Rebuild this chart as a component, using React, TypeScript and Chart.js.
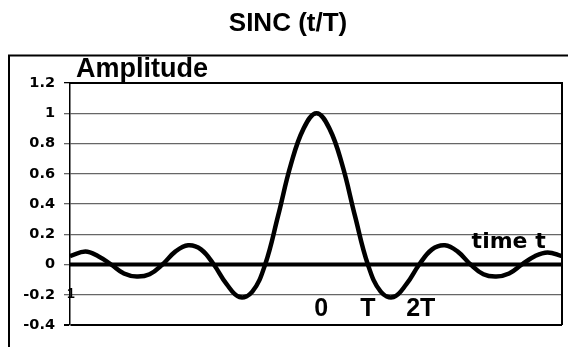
import React, { useEffect, useRef } from "react";
import { Chart, registerables } from "chart.js";

Chart.register(...registerables);

// ---- data (t in units of T) ----
const timeT = [-4.8, -4.5, -4.25, -4.0, -3.75, -3.5, -3.25, -3.0, -2.75, -2.5, -2.25, -2.0, -1.75, -1.5, -1.25, -1.0, -0.75, -0.5, -0.25, 0, 0.25, 0.5, 0.75, 1.0, 1.25, 1.5, 1.75, 2.0, 2.25, 2.5, 2.75, 3.0, 3.25, 3.5, 3.75, 4.0, 4.25, 4.5, 4.78];
const amplitude = [0.055, 0.086, 0.055, 0, -0.06, -0.08, -0.065, 0, 0.085, 0.127, 0.1, 0, -0.13, -0.215, -0.18, 0, 0.32, 0.66, 0.9, 1.0, 0.9, 0.66, 0.32, 0, -0.18, -0.215, -0.13, 0, 0.1, 0.127, 0.085, 0, -0.065, -0.08, -0.06, 0, 0.055, 0.08, 0.055];
const yTicks = [1.2, 1, 0.8, 0.6, 0.4, 0.2, 0, -0.2, -0.4];
const xMin = -4.8;
const xMax = 4.78;
const baselineX = [xMin, xMax];
const baselineY = [0, 0];

const titleText = "SINC (t/T)";
const yAxisTitle = "Amplitude";
const xAxisTitle = "time t";
const xAxisTitleT = 3.02;
const xAxisTitleY = 0.107;
const markerLabels = ["0", "T", "2T"];
const markerT = [0.09, 1.0, 2.03];
const markerY = -0.34;
const strayLabel = "1";

export default function App() {
  const ref = useRef<HTMLCanvasElement>(null);

  useEffect(() => {
    document.body.style.margin = "0";
    const canvas = ref.current!;

    const decor = {
      id: "decor",
      afterDraw(chart: any) {
        const { ctx, chartArea: a, scales } = chart;
        const xs = scales.x;
        const ys = scales.y;
        ctx.save();
        ctx.strokeStyle = "#000";
        ctx.lineWidth = 2;
        // plot-area border (top + right)
        ctx.beginPath();
        ctx.moveTo(a.left, a.top);
        ctx.lineTo(a.right, a.top);
        ctx.lineTo(a.right, a.bottom);
        ctx.stroke();
        // outer frame (clipped by window)
        ctx.beginPath();
        ctx.moveTo(9, 400);
        ctx.lineTo(9, 55.5);
        ctx.lineTo(600, 55.5);
        ctx.stroke();

        ctx.fillStyle = "#000";
        ctx.textBaseline = "alphabetic";
        // title
        ctx.font = "bold 26px 'Liberation Sans', Arial, sans-serif";
        ctx.textAlign = "center";
        ctx.fillText(titleText, 288, 31);
        // y axis title
        ctx.font = "bold 27px 'Liberation Sans', Arial, sans-serif";
        ctx.textAlign = "left";
        ctx.fillText(yAxisTitle, 76, 77);
        // x axis title
        ctx.font = "bold 22px 'DejaVu Sans', sans-serif";
        ctx.textAlign = "left";
        ctx.fillText(xAxisTitle, xs.getPixelForValue(xAxisTitleT), ys.getPixelForValue(xAxisTitleY));
        // markers
        ctx.font = "bold 25px 'Liberation Sans', Arial, sans-serif";
        ctx.textAlign = "center";
        markerLabels.forEach((m, i) => {
          ctx.fillText(m, xs.getPixelForValue(markerT[i]), ys.getPixelForValue(markerY));
        });
        // stray label
        ctx.font = "bold 14px 'Liberation Sans', Arial, sans-serif";
        ctx.textAlign = "left";
        ctx.fillText(strayLabel, 67, 298);
        ctx.restore();
      },
    };

    const chart = new Chart(canvas, {
      type: "line",
      data: {
        datasets: [
          {
            data: timeT.map((t, i) => ({ x: t, y: amplitude[i] })),
            borderColor: "#000",
            borderWidth: 4.5,
            pointRadius: 0,
            tension: 0.4,
            fill: false,
          },
          {
            data: baselineX.map((t, i) => ({ x: t, y: baselineY[i] })),
            borderColor: "#000",
            borderWidth: 4,
            pointRadius: 0,
            fill: false,
          },
        ],
      },
      options: {
        responsive: false,
        animation: false,
        devicePixelRatio: 1,
        layout: { padding: { top: 83, right: 6, bottom: 22, left: 0 } },
        plugins: { legend: { display: false }, tooltip: { enabled: false }, title: { display: false } },
        scales: {
          x: { type: "linear", min: xMin, max: xMax, display: false },
          y: {
            type: "linear",
            min: -0.4,
            max: 1.2,
            afterBuildTicks: (s: any) => {
              s.ticks = yTicks.map((v) => ({ value: v }));
            },
            afterFit: (s: any) => {
              s.width = 70;
            },
            ticks: {
              callback: (v: any) => String(v),
              color: "#000",
              padding: 9,
              font: { family: "'DejaVu Sans', sans-serif", weight: "bold", size: 14.5 },
            },
            grid: {
              color: (c: any) => (c.tick && (c.tick.value === 1.2 || c.tick.value === -0.4) ? "#000" : "#666"),
              lineWidth: (c: any) => (c.tick && c.tick.value === -0.4 ? 2 : 1.3),
              tickLength: 6,
              drawTicks: true,
            },
            border: { color: "#000", width: 1.5 },
          },
        },
      },
      plugins: [decor],
    } as any);

    return () => chart.destroy();
  }, []);

  return <canvas ref={ref} width={568} height={347} style={{ display: "block", width: 568, height: 347 }} />;
}
